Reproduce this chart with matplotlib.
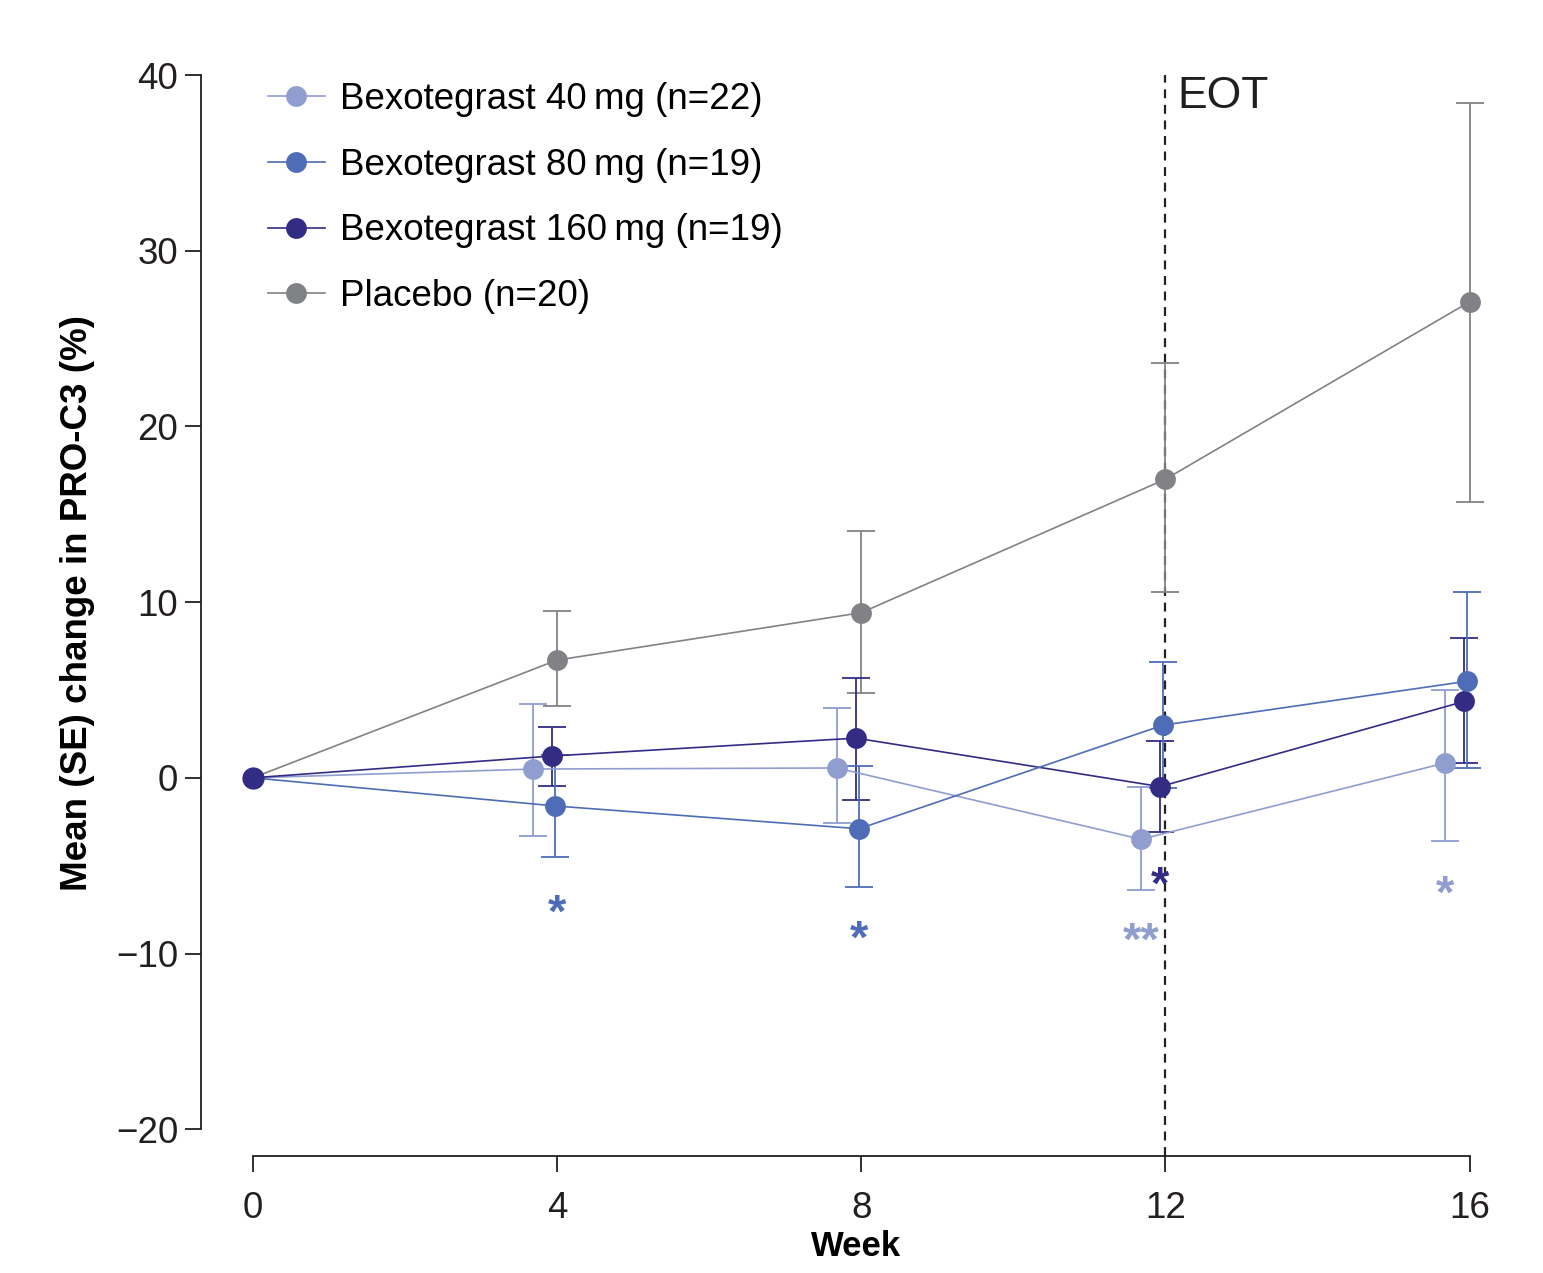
import matplotlib
matplotlib.use("Agg")
import matplotlib.pyplot as plt
from matplotlib.lines import Line2D

plt.rcParams['font.family'] = ['Liberation Sans', 'DejaVu Sans']

# data
weeks = [0, 4, 8, 12, 16]
labels = ['Bexotegrast 40\u2009mg (n=22)', 'Bexotegrast 80\u2009mg (n=19)',
          'Bexotegrast 160\u2009mg (n=19)', 'Placebo (n=20)']

mean_40 = [0, 0.5, 0.56, -3.5, 0.85]
low_40 = [0, -3.3, -2.6, -6.4, -3.6]
high_40 = [0, 4.2, 4.0, -0.5, 5.0]

mean_80 = [0, -1.6, -2.9, 3.0, 5.5]
low_80 = [0, -4.5, -6.2, -0.6, 0.56]
high_80 = [0, 1.3, 0.7, 6.6, 10.6]

mean_160 = [0, 1.24, 2.26, -0.5, 4.35]
low_160 = [0, -0.45, -1.24, -3.1, 0.85]
high_160 = [0, 2.9, 5.7, 2.1, 7.96]

mean_pbo = [0, 6.7, 9.4, 17.0, 27.1]
low_pbo = [0, 4.1, 4.85, 10.55, 15.7]
high_pbo = [0, 9.5, 14.05, 23.6, 38.4]

# significance marks: text, week, y, series index
sig_text = ['*', '*', '*', '**', '*']
sig_week = [4, 8, 12, 12, 16]
sig_y = [-7.8, -9.3, -6.2, -9.4, -6.7]
sig_series = [1, 1, 2, 0, 0]

# styling
colors = ['#8f9dcf', '#4f6cb7', '#332c85', '#818285']
offsets = [-0.32, -0.03, -0.07, 0.0]
sig_dx = [0.0, -0.03, -0.07, -0.32, -0.32]

fig = plt.figure(figsize=(15.43, 12.73), dpi=100)
ax = fig.add_axes([0.1303, 0.092, 0.837, 0.849])

series = [(mean_40, low_40, high_40), (mean_80, low_80, high_80),
          (mean_160, low_160, high_160), (mean_pbo, low_pbo, high_pbo)]

# placebo drawn first, then the active arms on top
order = [3, 0, 2, 1]
handles = {}
for i in order:
    m, lo, hi = series[i]
    xs = [w + (offsets[i] if w > 0 else 0) for w in weeks]
    yerr = [[mm - l for mm, l in zip(m, lo)], [h - mm for mm, h in zip(m, hi)]]
    ax.errorbar(xs[1:], m[1:], yerr=[yerr[0][1:], yerr[1][1:]], fmt='none',
                ecolor=colors[i], elinewidth=1.3, capsize=10, capthick=1.3, zorder=2)
    ax.plot(xs, m, color=colors[i], lw=1.2, marker='o', markersize=15,
            markeredgewidth=0, zorder=3)
    handles[i] = Line2D([], [], color=colors[i], lw=1.2, marker='o',
                        markersize=15, markeredgewidth=0)

# week 0 point drawn last in dark
ax.plot([0], [0], 'o', color=colors[2], markersize=15, zorder=4)

# end of treatment line
ax.axvline(12, color='#222222', lw=1.6, ls=(0, (4, 3)), ymin=0, ymax=1, zorder=1)
ax.text(12.16, 38.8, 'EOT', fontsize=32, color='#231f20', va='center', ha='left')

for t, w, y, s, dx in zip(sig_text, sig_week, sig_y, sig_series, sig_dx):
    ax.text(w + dx, y, t, fontsize=34, fontweight='bold', color=colors[s],
            ha='center', va='center')

ax.set_xlim(-0.68, 16.3)
ax.set_ylim(-21.52, 40)
ax.spines['top'].set_visible(False)
ax.spines['right'].set_visible(False)
ax.spines['left'].set_bounds(-20, 40)
ax.spines['bottom'].set_bounds(0, 16)
for sp in ('left', 'bottom'):
    ax.spines[sp].set_linewidth(1.3)
    ax.spines[sp].set_color('#231f20')

ax.set_xticks(weeks)
ax.set_yticks([-20, -10, 0, 10, 20, 30, 40])
ax.set_yticklabels(['\u221220', '\u221210', '0', '10', '20', '30', '40'])
ax.tick_params(axis='both', labelsize=26.5, colors='#231f20', width=1.3, length=11.5)
ax.tick_params(axis='y', pad=5)
ax.tick_params(axis='x', pad=14)

ax.set_xlabel('Week', fontsize=25, fontweight='bold')
ax.xaxis.set_label_coords(0.507, -0.069)
ax.set_ylabel('Mean (SE) change in PRO-C3 (%)', fontsize=26.5, fontweight='bold')
ax.yaxis.set_label_coords(-0.082, 0.512)

ax.legend([handles[i] for i in range(4)], labels, loc='upper left',
          bbox_to_anchor=(0.026, 1.024), frameon=False, fontsize=26.5,
          handlelength=1.55, handletextpad=0.4, labelspacing=0.83, numpoints=1)

fig.savefig('out.png', dpi=100)
